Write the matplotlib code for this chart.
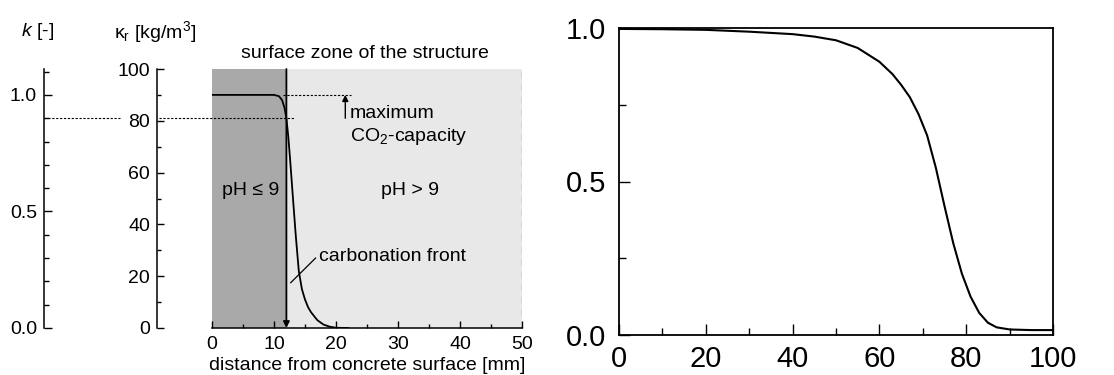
import matplotlib
matplotlib.use("Agg")
import matplotlib.pyplot as plt
from matplotlib.ticker import MultipleLocator

plt.rcParams['font.family'] = ['Liberation Sans', 'DejaVu Sans']
plt.rcParams['mathtext.fontset'] = 'custom'
plt.rcParams['mathtext.rm'] = 'Liberation Sans'
plt.rcParams['mathtext.it'] = 'Liberation Sans:italic'

# ---- data: left panel (CO2 binding profile) ----
depth_mm = [0, 10, 10.8, 11.3, 11.7, 12.0, 12.3, 12.6, 13.0, 13.5, 14.0,
            14.5, 15.0, 15.5, 16.0, 17.0, 18.0, 19.0, 20.0, 22.0]
kappa_r = [90, 90, 89.5, 88, 85, 81, 74, 65, 52, 36, 22,
           15, 11, 8, 6, 3, 1.3, 0.5, 0.1, 0]
kappa_max = 90           # maximum CO2 capacity [kg/m3]
kappa_ref = 81           # dashed reference level (k = 0.9)
front_depth = 12         # carbonation front [mm]
zone_depth = 50          # surface zone [mm]

# ---- data: right panel ----
x_right = [0, 10, 20, 30, 40, 45, 50, 55, 60, 63, 65, 67, 69, 71, 73, 75,
           77, 79, 81, 83, 85, 87, 90, 95, 100]
y_right = [0.997, 0.996, 0.994, 0.988, 0.980, 0.972, 0.960, 0.935, 0.890,
           0.850, 0.815, 0.775, 0.720, 0.650, 0.545, 0.420, 0.300, 0.200,
           0.125, 0.072, 0.040, 0.025, 0.018, 0.016, 0.016]

W, H = 1114, 375
DPI = 100
PT = 72 / DPI   # points per pixel
fig = plt.figure(figsize=(W / DPI, H / DPI), dpi=DPI)

def px_axes(x0, y0, x1, y1):
    return fig.add_axes([x0 / W, (H - y1) / H, (x1 - x0) / W, (y1 - y0) / H])

FS = 14
# ---------------- left panel ----------------
ax1 = px_axes(212, 69, 522, 328)
ax1.set_xlim(0, 50)
ax1.set_ylim(0, 100)
ax1.axvspan(0, front_depth, color='#a9a9a9', lw=0, zorder=0)
ax1.axvspan(front_depth, zone_depth, color='#e8e8e8', lw=0, zorder=0)
ax1.axvline(zone_depth, color='#888888', ls=(0, (5, 4)), lw=1.0)
ax1.plot(depth_mm, kappa_r, color='black', lw=1.3, zorder=3)

for s in ['top', 'right']:
    ax1.spines[s].set_visible(False)
ax1.spines['bottom'].set_linewidth(1.1)
px_per_mm = 310 / 50
ax1.spines['left'].set_position(('outward', 55 * PT))
ax1.spines['left'].set_linewidth(1.1)
ax1.yaxis.set_major_locator(MultipleLocator(20))
ax1.yaxis.set_minor_locator(MultipleLocator(10))
ax1.xaxis.set_major_locator(MultipleLocator(10))
ax1.xaxis.set_minor_locator(MultipleLocator(5))
ax1.tick_params(which='both', direction='in', labelsize=FS, width=1.0)
ax1.tick_params(which='major', length=7 * PT)
ax1.tick_params(which='minor', length=4 * PT)
ax1.tick_params(axis='y', pad=5)
ax1.tick_params(axis='x', pad=6)
ax1.set_xlabel('distance from concrete surface [mm]', fontsize=FS, labelpad=3)

# k axis
axk = ax1.twinx()
axk.set_ylim(0, 100 / kappa_max)
axk.yaxis.set_ticks_position('left')
axk.yaxis.set_label_position('left')
for s in ['top', 'right', 'bottom']:
    axk.spines[s].set_visible(False)
axk.spines['left'].set_position(('outward', 168 * PT))
axk.spines['left'].set_linewidth(1.1)
axk.yaxis.set_major_locator(MultipleLocator(0.5))
axk.yaxis.set_minor_locator(MultipleLocator(0.1))
axk.tick_params(which='both', direction='in', labelsize=FS, width=1.0, pad=5)
axk.tick_params(which='major', length=8 * PT)
axk.tick_params(which='minor', length=5 * PT)
axk.yaxis.set_major_formatter(plt.FormatStrFormatter('%.1f'))
axk.set_zorder(ax1.get_zorder() - 1)
ax1.patch.set_visible(False)

# axis titles
fig.text(38 / W, 1 - 32 / H, '$k$ [-]', fontsize=FS, ha='center', va='center')
fig.text(155 / W, 1 - 32 / H, 'κ$_\\mathrm{r}$ [kg/m$^3$]', fontsize=FS,
         ha='center', va='center')

# dashed reference lines
off_k = 168 / px_per_mm
ax1.plot([-off_k, -(212 - 120) / px_per_mm], [kappa_ref, kappa_ref],
         color='black', ls=(0, (2, 1.5)), lw=0.8, clip_on=False)
ax1.plot([-53 / px_per_mm, 13.2], [kappa_ref, kappa_ref],
         color='black', ls=(0, (2, 1.5)), lw=0.8, clip_on=False, zorder=4)
ax1.plot([11.5, 22.5], [kappa_max, kappa_max], color='black',
         ls=(0, (2, 1.5)), lw=0.8, zorder=4)

# arrows
ax1.annotate('', xy=(21.5, kappa_max), xytext=(21.5, kappa_ref),
             arrowprops=dict(arrowstyle='-|>', color='black', lw=1.0,
                             mutation_scale=9, shrinkA=0, shrinkB=0))
ax1.annotate('', xy=(front_depth, 0), xytext=(front_depth, 100),
             arrowprops=dict(arrowstyle='-|>', color='black', lw=1.3,
                             mutation_scale=9, shrinkA=0, shrinkB=0),
             zorder=5)

# texts
ax1.text(22.2, 83, 'maximum', fontsize=FS, va='center', ha='left')
ax1.text(22.2, 74, 'CO$_2$-capacity', fontsize=FS, va='center', ha='left')
ax1.text(6.2, 53, 'pH ≤ 9', fontsize=FS, ha='center', va='center')
ax1.text(32, 53, 'pH > 9', fontsize=FS, ha='center', va='center')
ax1.text(17.3, 27.5, 'carbonation front', fontsize=FS, ha='left', va='center')
ax1.plot([12.7, 16.7], [17.5, 27], color='black', lw=0.9)
ax1.text(24.6, 106, 'surface zone of the structure', fontsize=FS,
         ha='center', va='center', clip_on=False)

# ---------------- right panel ----------------
ax2 = px_axes(619, 28, 1053, 335)
ax2.plot(x_right, y_right, color='black', lw=1.5)
ax2.set_xlim(0, 100)
ax2.set_ylim(0, 1.0)
ax2.xaxis.set_major_locator(MultipleLocator(20))
ax2.xaxis.set_minor_locator(MultipleLocator(10))
ax2.yaxis.set_major_locator(MultipleLocator(0.5))
ax2.yaxis.set_minor_locator(MultipleLocator(0.25))
ax2.yaxis.set_major_formatter(plt.FormatStrFormatter('%.1f'))
ax2.tick_params(which='both', direction='in', labelsize=21, width=1.0)
ax2.tick_params(which='major', length=11 * PT)
ax2.tick_params(which='minor', length=7 * PT)
ax2.tick_params(axis='y', pad=9)
ax2.tick_params(axis='x', pad=7)
for s in ax2.spines.values():
    s.set_linewidth(1.3)

fig.savefig('out.png', dpi=DPI)
